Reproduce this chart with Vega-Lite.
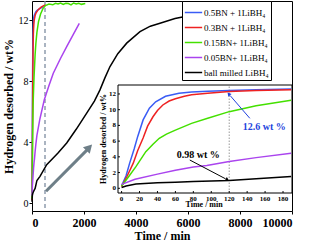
{
  "$schema": "https://vega.github.io/schema/vega-lite/v6.json",
  "width": 260,
  "height": 210,
  "autosize": {"type": "none"},
  "padding": {"left": 32, "top": 1, "right": 17, "bottom": 34},
  "config": {
    "view": {"stroke": "black", "strokeWidth": 1},
    "font": "Liberation Serif",
    "axis": {"grid": false, "domain": false, "tickColor": "black", "labelColor": "black", "titleColor": "black", "labelFont": "Liberation Serif", "titleFont": "Liberation Serif", "labelOverlap": false}
  },
  "datasets": {
    "curves": [
      {"s": "0.5BN + 1LiBH₄", "t": 0, "v": 0.3},
      {"s": "0.5BN + 1LiBH₄", "t": 5, "v": 1.6},
      {"s": "0.5BN + 1LiBH₄", "t": 9, "v": 3.2},
      {"s": "0.5BN + 1LiBH₄", "t": 14, "v": 5.0},
      {"s": "0.5BN + 1LiBH₄", "t": 18, "v": 6.6},
      {"s": "0.5BN + 1LiBH₄", "t": 24, "v": 8.7},
      {"s": "0.5BN + 1LiBH₄", "t": 31, "v": 10.2},
      {"s": "0.5BN + 1LiBH₄", "t": 38, "v": 11.0},
      {"s": "0.5BN + 1LiBH₄", "t": 49, "v": 11.7},
      {"s": "0.5BN + 1LiBH₄", "t": 64, "v": 12.1},
      {"s": "0.5BN + 1LiBH₄", "t": 78, "v": 12.25},
      {"s": "0.5BN + 1LiBH₄", "t": 96, "v": 12.35},
      {"s": "0.5BN + 1LiBH₄", "t": 120, "v": 12.45},
      {"s": "0.5BN + 1LiBH₄", "t": 150, "v": 12.55},
      {"s": "0.5BN + 1LiBH₄", "t": 189, "v": 12.62},
      {"s": "0.5BN + 1LiBH₄", "t": 250, "v": 12.7},
      {"s": "0.5BN + 1LiBH₄", "t": 350, "v": 12.8},
      {"s": "0.5BN + 1LiBH₄", "t": 450, "v": 12.9},
      {"s": "0.3BN + 1LiBH₄", "t": 0, "v": 0.2},
      {"s": "0.3BN + 1LiBH₄", "t": 6, "v": 1.5},
      {"s": "0.3BN + 1LiBH₄", "t": 13, "v": 3.2},
      {"s": "0.3BN + 1LiBH₄", "t": 18, "v": 4.8},
      {"s": "0.3BN + 1LiBH₄", "t": 24, "v": 6.4},
      {"s": "0.3BN + 1LiBH₄", "t": 29, "v": 7.9},
      {"s": "0.3BN + 1LiBH₄", "t": 35, "v": 9.1},
      {"s": "0.3BN + 1LiBH₄", "t": 40, "v": 9.9},
      {"s": "0.3BN + 1LiBH₄", "t": 46, "v": 10.6},
      {"s": "0.3BN + 1LiBH₄", "t": 53, "v": 11.1},
      {"s": "0.3BN + 1LiBH₄", "t": 60, "v": 11.4},
      {"s": "0.3BN + 1LiBH₄", "t": 70, "v": 11.7},
      {"s": "0.3BN + 1LiBH₄", "t": 78, "v": 11.9},
      {"s": "0.3BN + 1LiBH₄", "t": 96, "v": 12.1},
      {"s": "0.3BN + 1LiBH₄", "t": 120, "v": 12.3},
      {"s": "0.3BN + 1LiBH₄", "t": 150, "v": 12.45},
      {"s": "0.3BN + 1LiBH₄", "t": 189, "v": 12.55},
      {"s": "0.3BN + 1LiBH₄", "t": 250, "v": 12.7},
      {"s": "0.3BN + 1LiBH₄", "t": 350, "v": 12.85},
      {"s": "0.3BN + 1LiBH₄", "t": 450, "v": 12.95},
      {"s": "0.3BN + 1LiBH₄", "t": 520, "v": 13.0},
      {"s": "0.15BN+ 1LiBH₄", "t": 0, "v": 0.3},
      {"s": "0.15BN+ 1LiBH₄", "t": 8, "v": 1.5},
      {"s": "0.15BN+ 1LiBH₄", "t": 16, "v": 2.75},
      {"s": "0.15BN+ 1LiBH₄", "t": 27, "v": 4.66},
      {"s": "0.15BN+ 1LiBH₄", "t": 35, "v": 5.6},
      {"s": "0.15BN+ 1LiBH₄", "t": 42, "v": 6.36},
      {"s": "0.15BN+ 1LiBH₄", "t": 50, "v": 6.9},
      {"s": "0.15BN+ 1LiBH₄", "t": 60, "v": 7.4},
      {"s": "0.15BN+ 1LiBH₄", "t": 78, "v": 8.26},
      {"s": "0.15BN+ 1LiBH₄", "t": 96, "v": 8.9},
      {"s": "0.15BN+ 1LiBH₄", "t": 120, "v": 9.75},
      {"s": "0.15BN+ 1LiBH₄", "t": 150, "v": 10.5},
      {"s": "0.15BN+ 1LiBH₄", "t": 189, "v": 11.2},
      {"s": "0.15BN+ 1LiBH₄", "t": 250, "v": 11.9},
      {"s": "0.15BN+ 1LiBH₄", "t": 330, "v": 12.4},
      {"s": "0.15BN+ 1LiBH₄", "t": 420, "v": 12.75},
      {"s": "0.15BN+ 1LiBH₄", "t": 520, "v": 12.95},
      {"s": "0.15BN+ 1LiBH₄", "t": 650, "v": 13.05},
      {"s": "0.15BN+ 1LiBH₄", "t": 800, "v": 13.0},
      {"s": "0.15BN+ 1LiBH₄", "t": 900, "v": 13.1},
      {"s": "0.15BN+ 1LiBH₄", "t": 1000, "v": 13.05},
      {"s": "0.15BN+ 1LiBH₄", "t": 1100, "v": 13.12},
      {"s": "0.15BN+ 1LiBH₄", "t": 1200, "v": 13.02},
      {"s": "0.15BN+ 1LiBH₄", "t": 1300, "v": 13.1},
      {"s": "0.15BN+ 1LiBH₄", "t": 1400, "v": 13.08},
      {"s": "0.15BN+ 1LiBH₄", "t": 1500, "v": 13.0},
      {"s": "0.15BN+ 1LiBH₄", "t": 1600, "v": 13.12},
      {"s": "0.15BN+ 1LiBH₄", "t": 1700, "v": 13.05},
      {"s": "0.15BN+ 1LiBH₄", "t": 1800, "v": 13.1},
      {"s": "0.15BN+ 1LiBH₄", "t": 1900, "v": 13.03},
      {"s": "0.15BN+ 1LiBH₄", "t": 2050, "v": 13.08},
      {"s": "0.05BN+ 1LiBH₄", "t": 0, "v": 0.5},
      {"s": "0.05BN+ 1LiBH₄", "t": 15, "v": 1.15},
      {"s": "0.05BN+ 1LiBH₄", "t": 40, "v": 1.8},
      {"s": "0.05BN+ 1LiBH₄", "t": 60, "v": 2.3},
      {"s": "0.05BN+ 1LiBH₄", "t": 80, "v": 2.7},
      {"s": "0.05BN+ 1LiBH₄", "t": 95, "v": 2.9},
      {"s": "0.05BN+ 1LiBH₄", "t": 120, "v": 3.4},
      {"s": "0.05BN+ 1LiBH₄", "t": 150, "v": 3.9},
      {"s": "0.05BN+ 1LiBH₄", "t": 189, "v": 4.45},
      {"s": "0.05BN+ 1LiBH₄", "t": 300, "v": 5.5},
      {"s": "0.05BN+ 1LiBH₄", "t": 473, "v": 6.78},
      {"s": "0.05BN+ 1LiBH₄", "t": 650, "v": 7.7},
      {"s": "0.05BN+ 1LiBH₄", "t": 819, "v": 8.52},
      {"s": "0.05BN+ 1LiBH₄", "t": 1100, "v": 9.5},
      {"s": "0.05BN+ 1LiBH₄", "t": 1335, "v": 10.26},
      {"s": "0.05BN+ 1LiBH₄", "t": 1600, "v": 11.1},
      {"s": "0.05BN+ 1LiBH₄", "t": 1819, "v": 11.79},
      {"s": "ball milled LiBH₄", "t": 0, "v": 0.1},
      {"s": "ball milled LiBH₄", "t": 5, "v": 0.3},
      {"s": "ball milled LiBH₄", "t": 16, "v": 0.55},
      {"s": "ball milled LiBH₄", "t": 40, "v": 0.7},
      {"s": "ball milled LiBH₄", "t": 60, "v": 0.78},
      {"s": "ball milled LiBH₄", "t": 80, "v": 0.85},
      {"s": "ball milled LiBH₄", "t": 100, "v": 0.92},
      {"s": "ball milled LiBH₄", "t": 120, "v": 0.98},
      {"s": "ball milled LiBH₄", "t": 150, "v": 1.2},
      {"s": "ball milled LiBH₄", "t": 189, "v": 1.5},
      {"s": "ball milled LiBH₄", "t": 308, "v": 1.77},
      {"s": "ball milled LiBH₄", "t": 565, "v": 2.53},
      {"s": "ball milled LiBH₄", "t": 1000, "v": 3.3},
      {"s": "ball milled LiBH₄", "t": 1335, "v": 3.95},
      {"s": "ball milled LiBH₄", "t": 1700, "v": 4.85},
      {"s": "ball milled LiBH₄", "t": 2104, "v": 5.91},
      {"s": "ball milled LiBH₄", "t": 2400, "v": 6.7},
      {"s": "ball milled LiBH₄", "t": 2615, "v": 7.43},
      {"s": "ball milled LiBH₄", "t": 2800, "v": 8.2},
      {"s": "ball milled LiBH₄", "t": 3000, "v": 8.96},
      {"s": "ball milled LiBH₄", "t": 3300, "v": 9.8},
      {"s": "ball milled LiBH₄", "t": 3642, "v": 10.49},
      {"s": "ball milled LiBH₄", "t": 4154, "v": 11.24},
      {"s": "ball milled LiBH₄", "t": 4550, "v": 11.6},
      {"s": "ball milled LiBH₄", "t": 4923, "v": 11.79},
      {"s": "ball milled LiBH₄", "t": 5500, "v": 12.1},
      {"s": "ball milled LiBH₄", "t": 6180, "v": 12.33}
    ],
    "insetXTicks": [{"t": 0}, {"t": 20}, {"t": 40}, {"t": 60}, {"t": 80}, {"t": 100}, {"t": 120}, {"t": 140}, {"t": 160}, {"t": 180}],
    "insetYTicks": [{"v": 0}, {"v": 2}, {"v": 4}, {"v": 6}, {"v": 8}, {"v": 10}, {"v": 12}]
  },
  "layer": [
    {
      "encoding": {
        "x": {"type": "quantitative", "title": "Time / min", "scale": {"domain": [0, 10000], "nice": false, "zero": false}},
        "y": {"type": "quantitative", "title": "Hydrogen desorbed / wt%", "scale": {"domain": [-0.5, 13.25], "nice": false, "zero": false}}
      },
      "layer": [
        {
          "data": {"values": [{"t": 500}]},
          "mark": {"type": "rule", "color": "#7d8da0", "strokeDash": [4, 3], "strokeWidth": 1.3},
          "encoding": {"x": {"field": "t", "type": "quantitative", "title": "Time / min"}}
        },
        {
          "data": {"name": "curves"},
          "mark": {"type": "line", "strokeWidth": 1.5},
          "encoding": {
            "x": {
              "field": "t", "type": "quantitative", "title": "Time / min",
              "axis": {"orient": "bottom", "title": "Time / min", "values": [0, 1000, 2000, 3000, 4000, 5000, 6000, 7000, 8000, 9000, 10000], "format": "d", "labelExpr": "datum.value % 2000 == 0 ? datum.label : ''", "labelFontSize": 12, "labelFontWeight": "bold", "tickSize": 3, "labelPadding": 3, "titleFontSize": 12, "titleFontWeight": "bold", "titlePadding": 2}
            },
            "y": {
              "field": "v", "type": "quantitative", "title": "Hydrogen desorbed / wt%",
              "axis": {"orient": "left", "title": "Hydrogen desorbed / wt%", "values": [0, 2, 4, 6, 8, 10, 12], "labelFontSize": 10, "tickSize": 3, "labelPadding": 1, "titleFontSize": 12, "titleFontWeight": "bold", "titlePadding": 3}
            },
            "color": {
              "field": "s", "type": "nominal",
              "scale": {"domain": ["0.5BN + 1LiBH₄", "0.3BN + 1LiBH₄", "0.15BN+ 1LiBH₄", "0.05BN+ 1LiBH₄", "ball milled LiBH₄"], "range": ["#3a5cf5", "#ee2222", "#44e000", "#aa44ee", "#000000"]},
              "legend": {"orient": "none", "legendX": 150, "legendY": 0, "title": null, "symbolType": "stroke", "symbolSize": 300, "symbolStrokeWidth": 1.5, "labelFont": "Liberation Serif", "labelFontSize": 9, "labelColor": "black", "strokeColor": "black", "fillColor": "white", "padding": 2, "rowPadding": -2, "labelLimit": 200, "labelOffset": 1}
            }
          }
        },
        {
          "data": {"values": [{"t": 538, "v": 0.79}, {"t": 2130, "v": 3.52}]},
          "mark": {"type": "line", "color": "#6e7f88", "strokeWidth": 3},
          "encoding": {"x": {"field": "t", "type": "quantitative", "title": "Time / min"}, "y": {"field": "v", "type": "quantitative", "title": "Hydrogen desorbed / wt%"}}
        },
        {
          "data": {"values": [{"t": 2200, "v": 3.66}]},
          "mark": {"type": "point", "shape": "triangle-up", "filled": true, "color": "#6e7f88", "opacity": 1, "size": 90, "angle": 44},
          "encoding": {"x": {"field": "t", "type": "quantitative", "title": "Time / min"}, "y": {"field": "v", "type": "quantitative", "title": "Hydrogen desorbed / wt%"}}
        }
      ]
    },
    {
      "encoding": {
        "x": {"type": "quantitative", "axis": null, "scale": {"domain": [-4, 190], "range": [86, 260], "nice": false, "zero": false}},
        "y": {"type": "quantitative", "axis": null, "scale": {"domain": [-0.6, 13.14], "range": [192, 84], "nice": false, "zero": false}}
      },
      "layer": [
        {
          "data": {"values": [{"t": -4, "t2": 190, "v": -0.6, "v2": 13.14}]},
          "mark": {"type": "rect", "fill": "white", "stroke": "black", "strokeWidth": 1},
          "encoding": {"x": {"field": "t", "type": "quantitative", "axis": null}, "x2": {"field": "t2"}, "y": {"field": "v", "type": "quantitative", "axis": null}, "y2": {"field": "v2"}}
        },
        {
          "data": {"values": [{"t": 120, "v": -0.6, "v2": 13.14}]},
          "mark": {"type": "rule", "color": "#9a9a9a", "strokeDash": [1.5, 1.5], "strokeWidth": 1},
          "encoding": {"x": {"field": "t", "type": "quantitative", "axis": null}, "y": {"field": "v", "type": "quantitative", "axis": null}, "y2": {"field": "v2"}}
        },
        {
          "data": {"name": "insetXTicks"},
          "mark": {"type": "rule", "color": "black", "strokeWidth": 1},
          "encoding": {"x": {"field": "t", "type": "quantitative", "axis": null}, "y": {"datum": -0.6, "axis": null}, "y2": {"datum": -0.35}}
        },
        {
          "data": {"name": "insetXTicks"},
          "mark": {"type": "text", "font": "Liberation Serif", "fontWeight": "bold", "fontSize": 7, "baseline": "top", "dy": 2, "color": "black"},
          "encoding": {"x": {"field": "t", "type": "quantitative", "axis": null}, "y": {"datum": -0.6, "axis": null}, "text": {"field": "t", "type": "quantitative"}}
        },
        {
          "data": {"name": "insetYTicks"},
          "mark": {"type": "rule", "color": "black", "strokeWidth": 1},
          "encoding": {"y": {"field": "v", "type": "quantitative", "axis": null}, "x": {"datum": -4, "axis": null}, "x2": {"datum": -1.8}}
        },
        {
          "data": {"name": "insetYTicks"},
          "mark": {"type": "text", "font": "Liberation Serif", "fontWeight": "bold", "fontSize": 7, "align": "right", "baseline": "middle", "dx": -2, "color": "black"},
          "encoding": {"y": {"field": "v", "type": "quantitative", "axis": null}, "x": {"datum": -4, "axis": null}, "text": {"field": "v", "type": "quantitative"}}
        },
        {
          "data": {"values": [{"label": "Time / min"}]},
          "mark": {"type": "text", "font": "Liberation Serif", "fontWeight": "bold", "fontSize": 8, "baseline": "top", "dy": 8, "color": "black"},
          "encoding": {"x": {"datum": 92, "axis": null}, "y": {"datum": -0.6, "axis": null}, "text": {"field": "label"}}
        },
        {
          "data": {"values": [{"label": "Hydrogen desorbed / wt%"}]},
          "mark": {"type": "text", "font": "Liberation Serif", "fontWeight": "bold", "fontSize": 8, "baseline": "middle", "angle": 270, "dy": -14, "color": "black"},
          "encoding": {"x": {"datum": -4, "axis": null}, "y": {"datum": 6.27, "axis": null}, "text": {"field": "label"}}
        },
        {
          "data": {"name": "curves"},
          "transform": [{"filter": "datum.t <= 190"}],
          "mark": {"type": "line", "strokeWidth": 1.5},
          "encoding": {
            "x": {"field": "t", "type": "quantitative", "axis": null},
            "y": {"field": "v", "type": "quantitative", "axis": null},
            "color": {"field": "s", "type": "nominal", "legend": null}
          }
        },
        {
          "data": {"values": [{"t": 143, "v": 8.9}, {"t": 121, "v": 11.8}]},
          "mark": {"type": "line", "color": "#2040e0", "strokeWidth": 1},
          "encoding": {"x": {"field": "t", "type": "quantitative", "axis": null}, "y": {"field": "v", "type": "quantitative", "axis": null}}
        },
        {
          "data": {"values": [{"t": 119.5, "v": 12.0}]},
          "mark": {"type": "point", "shape": "triangle-up", "filled": true, "color": "#2040e0", "opacity": 1, "size": 18, "angle": 319},
          "encoding": {"x": {"field": "t", "type": "quantitative", "axis": null}, "y": {"field": "v", "type": "quantitative", "axis": null}}
        },
        {
          "data": {"values": [{"t": 76, "v": 3.6}, {"t": 116, "v": 1.2}]},
          "mark": {"type": "line", "color": "black", "strokeWidth": 1},
          "encoding": {"x": {"field": "t", "type": "quantitative", "axis": null}, "y": {"field": "v", "type": "quantitative", "axis": null}}
        },
        {
          "data": {"values": [{"t": 118, "v": 1.1}]},
          "mark": {"type": "point", "shape": "triangle-up", "filled": true, "color": "black", "opacity": 1, "size": 18, "angle": 118},
          "encoding": {"x": {"field": "t", "type": "quantitative", "axis": null}, "y": {"field": "v", "type": "quantitative", "axis": null}}
        },
        {
          "data": {"values": [{"t": 159, "v": 7.8, "label": "12.6 wt %"}]},
          "mark": {"type": "text", "color": "#2244dd", "font": "Liberation Serif", "fontWeight": "bold", "fontSize": 10},
          "encoding": {"x": {"field": "t", "type": "quantitative", "axis": null}, "y": {"field": "v", "type": "quantitative", "axis": null}, "text": {"field": "label"}}
        },
        {
          "data": {"values": [{"t": 85.5, "v": 4.25, "label": "0.98 wt %"}]},
          "mark": {"type": "text", "color": "black", "font": "Liberation Serif", "fontWeight": "bold", "fontSize": 10},
          "encoding": {"x": {"field": "t", "type": "quantitative", "axis": null}, "y": {"field": "v", "type": "quantitative", "axis": null}, "text": {"field": "label"}}
        }
      ]
    }
  ],
  "resolve": {"scale": {"x": "independent", "y": "independent"}, "axis": {"x": "independent", "y": "independent"}}
}
